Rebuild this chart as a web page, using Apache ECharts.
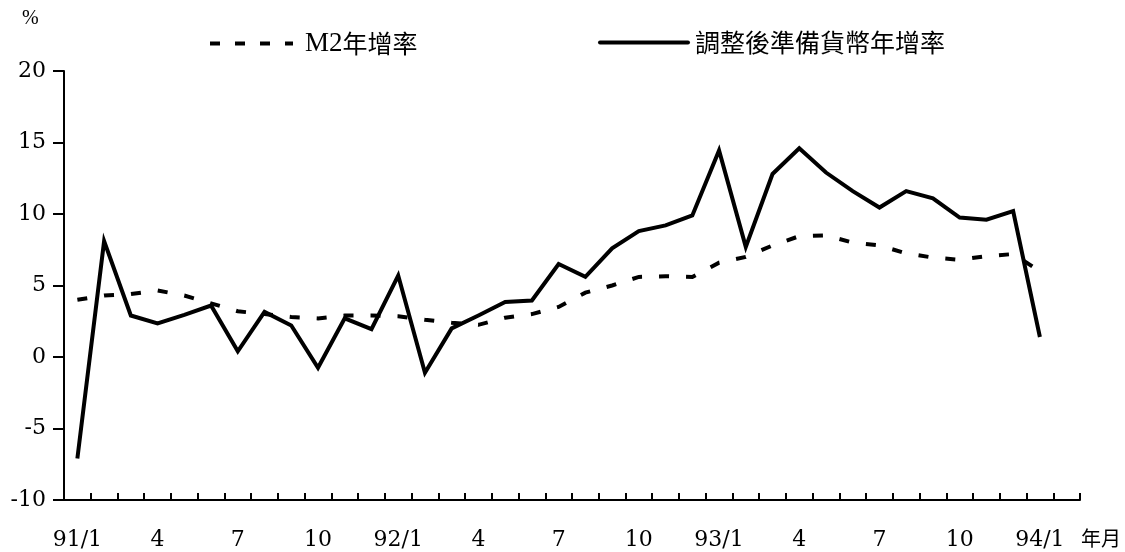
<!DOCTYPE html>
<html>
<head>
<meta charset="utf-8">
<script src="https://cdn.jsdelivr.net/npm/echarts@6/dist/echarts.min.js"></script>
<style>
html,body{margin:0;padding:0;background:#fff;}
#c{width:1125px;height:552px;}
</style>
</head>
<body>
<div id="c"></div>
<script>
// Months 91/1 .. 94/1 plus one empty slot at the right end of the axis
const categories = [
  '91/1','2','3','4','5','6','7','8','9','10','11','12',
  '92/1','2','3','4','5','6','7','8','9','10','11','12',
  '93/1','2','3','4','5','6','7','8','9','10','11','12',
  '94/1',''
];
const m2Growth = [
  4.0, 4.3, 4.4, 4.65, 4.3, 3.75, 3.2, 3.0, 2.8, 2.7, 2.9, 2.9,
  2.85, 2.6, 2.4, 2.25, 2.75, 3.0, 3.5, 4.5, 5.0, 5.6, 5.65, 5.6,
  6.6, 7.0, 7.8, 8.45, 8.5, 8.0, 7.8, 7.25, 6.95, 6.8, 7.05, 7.2,
  6.0
];
const reserveGrowth = [
  -7.1, 8.1, 2.9, 2.35, 2.95, 3.6, 0.4, 3.15, 2.2, -0.75, 2.7, 1.95,
  5.7, -1.1, 2.0, 2.9, 3.85, 3.95, 6.5, 5.6, 7.6, 8.8, 9.2, 9.9,
  14.45, 7.7, 12.8, 14.6, 12.9, 11.6, 10.45, 11.6, 11.1, 9.75, 9.6, 10.2,
  1.4
];
const yTicks = { min: -10, max: 20, interval: 5 };
const seriesNames = ['M2年增率', '調整後準備貨幣年增率'];

const serif = '"DejaVu Serif", "Liberation Serif", serif';
const cjk = '"Noto Sans CJK TC", "Noto Sans CJK SC", sans-serif';

const chart = echarts.init(document.getElementById('c'), null, {renderer: 'canvas'});
chart.setOption({
  animation: false,
  backgroundColor: '#fff',
  grid: { left: 64, right: 45, top: 71, bottom: 52, containLabel: false },
  legend: [
    {
      data: [seriesNames[0]], left: 208, top: 30, padding: 0, itemWidth: 83, itemHeight: 26,
      lineStyle: { width: 4, type: [10, 15], cap: 'butt' },
      itemStyle: { opacity: 0 },
      formatter: function () { return '{a|M2}{b|年增率}'; },
      textStyle: {
        padding: [0, 0, 0, 7],
        rich: {
          a: { fontFamily: '"Liberation Serif", serif', fontSize: 27, color: '#000' },
          b: { fontFamily: cjk, fontSize: 25, color: '#000' }
        }
      }
    },
    {
      data: [seriesNames[1]], left: 598, top: 30, padding: 0, itemWidth: 88, itemHeight: 26,
      lineStyle: { width: 4, type: 'solid', cap: 'round' },
      itemStyle: { opacity: 0 },
      textStyle: { fontFamily: cjk, fontSize: 25, color: '#000', padding: [0, 0, 0, 2] }
    }
  ],
  xAxis: {
    type: 'category',
    data: categories,
    boundaryGap: true,
    axisLine: { onZero: false, lineStyle: { color: '#000', width: 2 } },
    axisTick: { show: true, inside: true, length: 7, interval: 0, lineStyle: { color: '#000', width: 2 } },
    axisLabel: {
      interval: function (i) { return i % 3 === 0 && i < 37; },
      color: '#000', fontFamily: serif, fontSize: 22, margin: 29
    },
    splitLine: { show: false }
  },
  yAxis: {
    type: 'value',
    min: yTicks.min, max: yTicks.max, interval: yTicks.interval,
    axisLine: { show: true, lineStyle: { color: '#000', width: 2 } },
    axisTick: { show: true, inside: false, length: 11, lineStyle: { color: '#000', width: 2 } },
    axisLabel: { color: '#000', fontFamily: serif, fontSize: 22, margin: 18 },
    splitLine: { show: false }
  },
  graphic: [
    { type: 'text', left: 22, top: 9, style: { text: '%', fontSize: 20, fontFamily: '"Liberation Serif", serif', fill: '#000' } },
    { type: 'text', left: 1081, top: 528, style: { text: '年月', fontSize: 20, fontFamily: cjk, fill: '#000' } }
  ],
  series: [
    {
      name: seriesNames[0], type: 'line', data: m2Growth, symbol: 'none',
      lineStyle: { color: '#000', width: 4, type: [10, 17], cap: 'butt', join: 'miter' },
      itemStyle: { color: '#000' }
    },
    {
      name: seriesNames[1], type: 'line', data: reserveGrowth, symbol: 'none',
      lineStyle: { color: '#000', width: 4, type: 'solid', cap: 'butt', join: 'miter' },
      itemStyle: { color: '#000' }
    }
  ]
});
</script>
</body>
</html>
